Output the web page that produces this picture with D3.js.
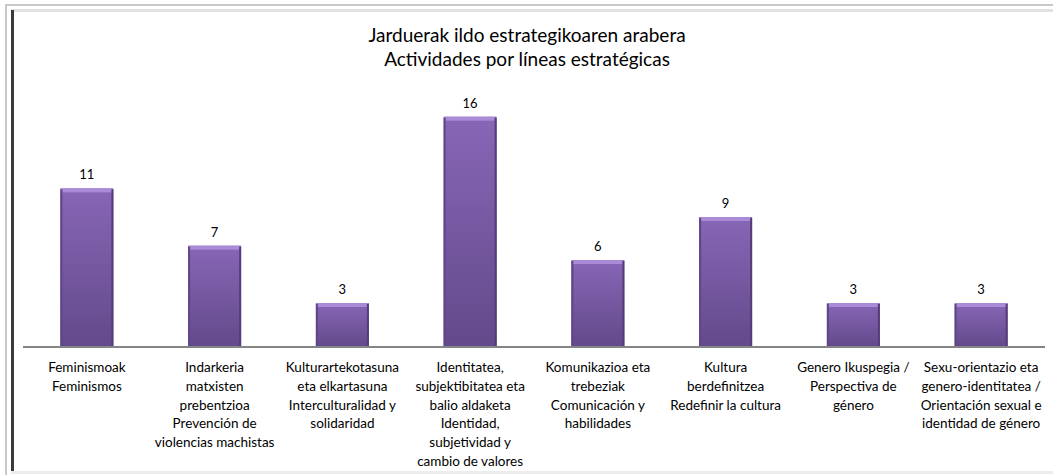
<!DOCTYPE html>
<html>
<head>
<meta charset="utf-8">
<script src="https://cdn.jsdelivr.net/npm/d3@7/dist/d3.min.js"></script>
<style>
  body { margin: 0; background: #fff; }
  svg text { font-family: Lato, "Open Sans", sans-serif; fill: #000; }
</style>
</head>
<body>
<div id="chart"></div>
<script>
const titleLines = ["Jarduerak ildo estrategikoaren arabera", "Actividades por líneas estratégicas"];

const categories = [
    "Feminismoak\nFeminismos",
    "Indarkeria\nmatxisten\nprebentzioa\nPrevención de\nviolencias machistas",
    "Kulturartekotasuna\neta elkartasuna\nInterculturalidad y\nsolidaridad",
    "Identitatea,\nsubjektibitatea eta\nbalio aldaketa\nIdentidad,\nsubjetividad y\ncambio de valores",
    "Komunikazioa eta\ntrebeziak\nComunicación y\nhabilidades",
    "Kultura\nberdefinitzea\nRedefinir la cultura",
    "Genero Ikuspegia /\nPerspectiva de\ngénero",
    "Sexu-orientazio eta\ngenero-identitatea /\nOrientación sexual e\nidentidad de género"
];

const values = [11, 7, 3, 16, 6, 9, 3, 3];

let width = 1053;
let height = 475;
let left = 23, right = 1045, base = 346;

let svg = d3.select('#chart')
    .append('svg')
    .attr('width', width)
    .attr('height', height);

// frame
svg.append('rect').attr('x', 5).attr('y', 4).attr('width', width).attr('height', 2).attr('fill', '#c8c8c8');
svg.append('rect').attr('x', 5).attr('y', 4).attr('width', 2).attr('height', height).attr('fill', '#c8c8c8');
svg.append('rect').attr('x', 11).attr('y', 9).attr('width', width).attr('height', 3).attr('fill', '#e2e2e2');
svg.append('rect').attr('x', 11).attr('y', 471).attr('width', width).attr('height', 3).attr('fill', '#ececec');
svg.append('rect').attr('x', 11).attr('y', 10).attr('width', 3).attr('height', 461).attr('fill', '#3a3a3a');

let defs = svg.append('defs');
let grad = defs.append('linearGradient')
    .attr('id', 'barGrad')
    .attr('x1', 0).attr('y1', 0).attr('x2', 0).attr('y2', 1);
grad.append('stop').attr('offset', '0%').attr('stop-color', '#8766b6');
grad.append('stop').attr('offset', '100%').attr('stop-color', '#634a8b');

let x = d3.scaleBand()
    .domain(d3.range(categories.length))
    .range([left, right])
    .paddingInner(0.585)
    .paddingOuter(0.2925);

let y = d3.scaleLinear()
    .domain([0, 18])
    .range([base, base - 18 * 14.33]);

// title
svg.append('g').selectAll('text')
    .data(titleLines)
    .enter()
    .append('text')
    .attr('x', 527)
    .attr('y', (d, i) => 42 + i * 24)
    .attr('text-anchor', 'middle')
    .style('font-size', '19px')
    .text(d => d);

let bars = svg.append('g').selectAll('g')
    .data(values)
    .enter()
    .append('g');

bars.append('rect')
    .attr('x', (d, i) => x(i))
    .attr('y', d => y(d))
    .attr('width', x.bandwidth())
    .attr('height', d => base - y(d))
    .attr('fill', 'url(#barGrad)');

// bevel: top highlight and darker sides
bars.append('rect')
    .attr('x', (d, i) => x(i) + 1)
    .attr('y', d => y(d))
    .attr('width', x.bandwidth() - 2)
    .attr('height', 4)
    .attr('fill', '#aa8bd8');
bars.append('rect')
    .attr('x', (d, i) => x(i))
    .attr('y', d => y(d) + 1)
    .attr('width', 2)
    .attr('height', d => base - y(d) - 1)
    .attr('fill', '#5f4686');
bars.append('rect')
    .attr('x', (d, i) => x(i) + x.bandwidth() - 2)
    .attr('y', d => y(d) + 1)
    .attr('width', 2)
    .attr('height', d => base - y(d) - 1)
    .attr('fill', '#543d78');

bars.append('text')
    .attr('x', (d, i) => x(i) + x.bandwidth() / 2)
    .attr('y', d => y(d) - 9)
    .attr('text-anchor', 'middle')
    .style('font-size', '13px')
    .text(d => d);

// axis line
svg.append('line')
    .attr('x1', left).attr('x2', right)
    .attr('y1', base + 1).attr('y2', base + 1)
    .attr('stroke', '#858585')
    .attr('stroke-width', 2);

let labels = svg.append('g').selectAll('text')
    .data(categories)
    .enter()
    .append('text')
    .attr('text-anchor', 'middle')
    .style('font-size', '13.5px');

labels.selectAll('tspan')
    .data((d, i) => d.split('\n').map(t => ({ t: t, i: i })))
    .enter()
    .append('tspan')
    .attr('x', d => x(d.i) + x.bandwidth() / 2)
    .attr('y', (d, j) => 372 + j * 18.8)
    .text(d => d.t);
</script>
</body>
</html>
